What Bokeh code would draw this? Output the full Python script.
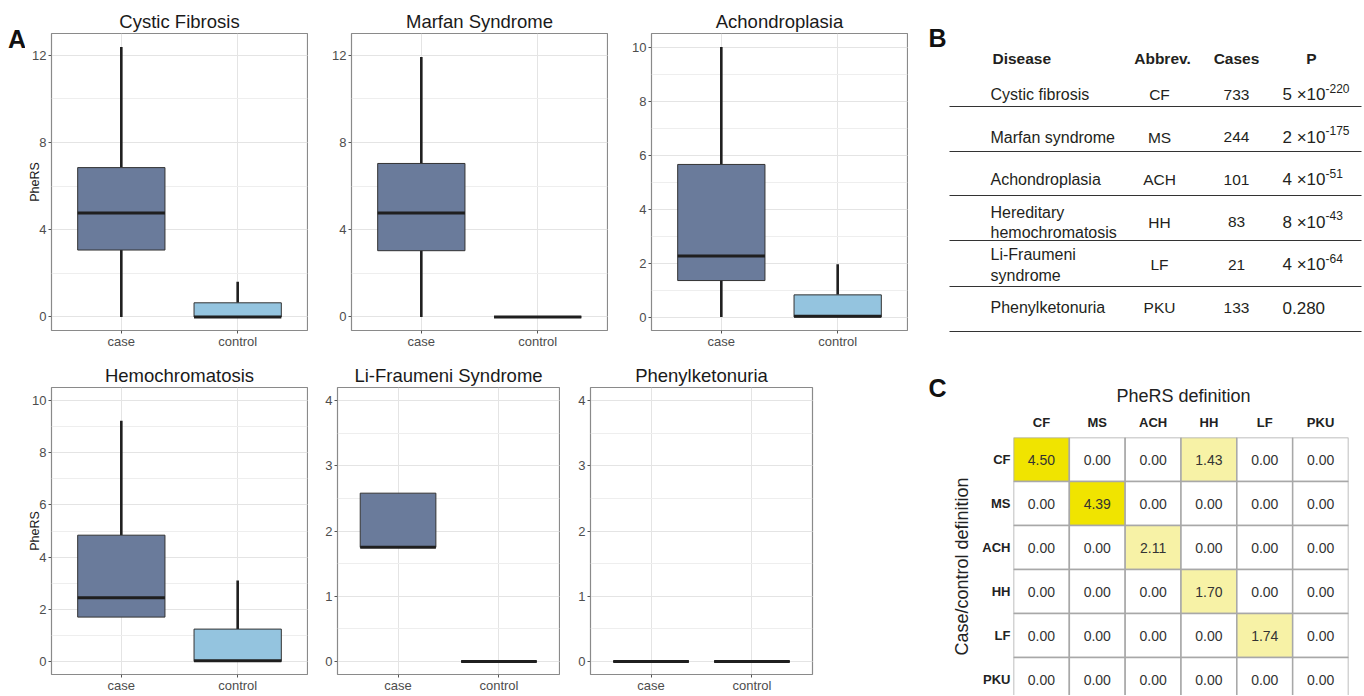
from bokeh.plotting import figure
from bokeh.layouts import row, column
from bokeh.models import Range1d, FactorRange, SingleIntervalTicker, FixedTicker
from bokeh.core.properties import value
from bokeh.embed import file_html
from bokeh.resources import INLINE

# ---------------- data ----------------
groups = ["case", "control"]
panel_titles = ["Cystic Fibrosis", "Marfan Syndrome", "Achondroplasia",
                "Hemochromatosis", "Li-Fraumeni Syndrome", "Phenylketonuria"]

# box-plot summaries per panel: [case, control]
whisker_low = [[0.0, 0.0], [0.0, 0.0], [0.0, 0.0], [1.70, 0.0], [1.75, 0.0], [0.0, 0.0]]
q1 = [[3.07, 0.0], [3.04, 0.0], [1.35, 0.0], [1.70, 0.0], [1.75, 0.0], [0.0, 0.0]]
median = [[4.77, 0.0], [4.77, 0.0], [2.26, 0.03], [2.44, 0.03], [1.75, 0.0], [0.0, 0.0]]
q3 = [[6.85, 0.65], [7.04, 0.0], [5.65, 0.82], [4.84, 1.24], [2.58, 0.0], [0.0, 0.0]]
whisker_high = [[12.38, 1.62], [11.92, 0.0], [10.0, 1.95], [9.23, 3.10], [2.58, 0.0], [0.0, 0.0]]

# axis limits / tick spacing per panel
y_lo = [-0.62, -0.62, -0.5, -0.5, -0.2, -0.2]
y_hi = [13.0, 13.0, 10.5, 10.5, 4.2, 4.2]
tick_step = [4, 4, 2, 2, 1, 1]

# table B
diseases = ["Cystic fibrosis", "Marfan syndrome", "Achondroplasia",
            "Hereditary\nhemochromatosis", "Li-Fraumeni\nsyndrome", "Phenylketonuria"]
abbrevs = ["CF", "MS", "ACH", "HH", "LF", "PKU"]
cases = [733, 244, 101, 83, 21, 133]
p_base = ["5 \u00d710", "2 \u00d710", "4 \u00d710", "8 \u00d710", "4 \u00d710", "0.280"]
p_exp = ["-220", "-175", "-51", "-43", "-64", ""]
table_headers = ["Disease", "Abbrev.", "Cases", "P"]

# heatmap C: rows = case/control definition, cols = PheRS definition
heat_values = [
    [4.50, 0.00, 0.00, 1.43, 0.00, 0.00],
    [0.00, 4.39, 0.00, 0.00, 0.00, 0.00],
    [0.00, 0.00, 2.11, 0.00, 0.00, 0.00],
    [0.00, 0.00, 0.00, 1.70, 0.00, 0.00],
    [0.00, 0.00, 0.00, 0.00, 1.74, 0.00],
    [0.00, 0.00, 0.00, 0.00, 0.00, 0.00],
]

# ---------------- styles ----------------
FONT = "Liberation Sans"
LABEL_FONT = "'Liberation Sans Narrow', 'Liberation Sans', sans-serif"
CASE_COL = "#6A7B9B"
CTRL_COL = "#94C4DF"
DARK = "#1F1F1F"
TXT = "#231F20"


def blank_fig(width, height, xr, yr):
    f = figure(width=width, height=height, x_range=xr, y_range=yr,
               output_backend="svg", toolbar_location=None, min_border=0,
               min_border_left=0, min_border_right=0, min_border_top=0, min_border_bottom=0,
               x_axis_type=None, y_axis_type=None)
    f.grid.grid_line_color = None
    f.outline_line_color = None
    return f


def box_panel(i, width, height, bl, br, bt, bb, ylabel=None):
    p = figure(width=width, height=height,
               x_range=Range1d(0.4, 2.6), y_range=Range1d(y_lo[i], y_hi[i]),
               output_backend="svg", toolbar_location=None,
               min_border_left=bl, min_border_right=br,
               min_border_top=bt, min_border_bottom=bb)
    p.title.text = panel_titles[i]
    p.title.align = "center"
    p.title.text_font = FONT
    p.title.text_font_size = "18.5px"
    p.title.text_font_style = "normal"
    p.title.text_color = "#1a1a1a"
    p.title.standoff = 3

    xs = [k + 1 for k in range(len(groups))]
    colors = [CASE_COL, CTRL_COL]
    p.segment(x0=xs, x1=xs, y0=q3[i], y1=whisker_high[i], line_color=DARK, line_width=2.6)
    p.segment(x0=xs, x1=xs, y0=whisker_low[i], y1=q1[i], line_color=DARK, line_width=2.6)
    p.vbar(x=xs, width=0.75, bottom=q1[i], top=q3[i], fill_color=colors,
           line_color="#333333", line_width=1)
    p.vbar(x=xs, width=0.75, bottom=median[i], top=median[i], fill_color=None,
           line_color=DARK, line_width=3)

    p.xaxis.ticker = FixedTicker(ticks=xs)
    p.xaxis.major_label_overrides = {x: g for x, g in zip(xs, groups)}
    p.yaxis.ticker = SingleIntervalTicker(interval=tick_step[i], num_minor_ticks=2)
    for ax in (p.xaxis[0], p.yaxis[0]):
        ax.axis_line_color = None
        ax.major_tick_out = 3
        ax.major_tick_in = 0
        ax.major_tick_line_color = "#555555"
        ax.minor_tick_line_color = None
        ax.major_label_text_font = FONT
        ax.major_label_text_font_size = "13px"
        ax.major_label_text_color = "#4D4D4D"
        ax.major_label_standoff = 1
    p.xaxis.major_label_standoff = 0
    if ylabel:
        p.yaxis.axis_label = ylabel
        p.yaxis.axis_label_text_font = FONT
        p.yaxis.axis_label_text_font_size = "12.5px"
        p.yaxis.axis_label_text_font_style = "normal"
        p.yaxis.axis_label_text_color = "#1a1a1a"
        p.yaxis.axis_label_standoff = -13
    p.xgrid.grid_line_color = "#E4E4E4"
    p.ygrid.grid_line_color = "#E4E4E4"
    p.ygrid.minor_grid_line_color = "#EEEEEE"
    p.outline_line_color = "#8A8A8A"
    p.outline_line_width = 1.2
    return p


# ---------------- panel A ----------------
p1 = box_panel(0, 283, 356, 26, 1, 33, 26, "PheRS")
p2 = box_panel(1, 300, 356, 43, 1, 33, 26)
p3 = box_panel(2, 300, 356, 43, 1, 33, 26)
p4 = box_panel(3, 283, 339, 26, 1, 31, 0, "PheRS")
p5 = box_panel(4, 252, 339, 29, 1, 31, 0)
p6 = box_panel(5, 348, 339, 30, 96, 31, 0)

# strip holding the panel letter "A"
pA = blank_fig(25, 695, Range1d(0, 25), Range1d(695, 0))
pA.text(x=[16.5], y=[38], text=["A"], text_font=value(LABEL_FONT), text_font_size="25px",
        text_font_style="bold", text_align="center", text_baseline="middle", text_color="#111111")

# ---------------- table B (also holds the "C" letter and heat-map title) ----------------
row_px = 42.6
r_top = 1 - 94 / row_px
r_bot = r_top + 410 / row_px
tab = blank_fig(454, 410, Range1d(0, 454), Range1d(r_bot, r_top))

rows = [k + 1 for k in range(len(diseases))]
header_x = [84, 254, 328, 403]
header_align = ["left", "center", "center", "center"]
for h, hx, ha in zip(table_headers, header_x, header_align):
    tab.text(x=[hx], y=[0.155], text=[h], text_font=value(FONT), text_font_size="15.5px",
             text_font_style="bold", text_align=ha, text_baseline="middle", text_color=TXT)
tab.text(x=[82] * len(rows), y=rows, text=diseases, text_font=value(FONT),
         text_font_size="16px", text_align="left", text_baseline="middle", text_color=TXT)
tab.text(x=[251] * len(rows), y=rows, text=abbrevs, text_font=value(FONT),
         text_font_size="15.5px", text_align="center", text_baseline="middle", text_color=TXT)
tab.text(x=[328] * len(rows), y=rows, text=[str(c) for c in cases], text_font=value(FONT),
         text_font_size="15.5px", text_align="center", text_baseline="middle", text_color=TXT)
tab.text(x=[374] * len(rows), y=rows, text=p_base, text_font=value(FONT),
         text_font_size="17px", text_align="left", text_baseline="middle", text_color=TXT)
tab.text(x=[417] * len(rows), y=[r - 0.15 for r in rows], text=p_exp, text_font=value(FONT),
         text_font_size="12px", text_align="left", text_baseline="middle", text_color=TXT)
rule_y = [1.282, 2.338, 3.371, 4.427, 5.507, 6.563]
tab.segment(x0=[41] * len(rule_y), x1=[453] * len(rule_y), y0=rule_y, y1=rule_y,
            line_color="#333333", line_width=1.2)
tab.text(x=[29, 29], y=[-0.315, 7.878], text=["B", "C"], text_font=value(LABEL_FONT),
         text_font_size="25px", text_font_style="bold", text_align="center",
         text_baseline="middle", text_color="#111111")
tab.text(x=[275], y=[8.089], text=["PheRS definition"], text_font=value(FONT),
         text_font_size="18px", text_align="center", text_baseline="middle", text_color="#222222")

# ---------------- heatmap C ----------------
heat_h = 285
heat_top = 27
cell_px = 44.0
heat = figure(width=454, height=heat_h, x_range=FactorRange(*abbrevs),
              y_range=Range1d(-0.5 + (heat_h - heat_top) / cell_px, -0.5),
              x_axis_location="above",
              output_backend="svg", toolbar_location=None,
              min_border_left=105, min_border_right=14, min_border_top=heat_top,
              min_border_bottom=0)
cx, cy, cc, ct = [], [], [], []
for r, rowvals in enumerate(heat_values):
    for c, v in enumerate(rowvals):
        cx.append(abbrevs[c])
        cy.append(r)
        cc.append("#F0E400" if v > 3 else ("#F7F2A6" if v > 0 else "#FFFFFF"))
        ct.append(f"{v:.2f}")
heat.rect(x=cx, y=cy, width=1, height=1, fill_color=cc, line_color="#A8A8A8", line_width=1.5)
heat.text(x=cx, y=cy, text=ct, text_font=value(FONT), text_font_size="14px",
          text_align="center", text_baseline="middle", text_color="#333333")
heat.yaxis.ticker = FixedTicker(ticks=list(range(len(abbrevs))))
heat.yaxis.major_label_overrides = {k: a for k, a in enumerate(abbrevs)}
heat.yaxis.axis_label = "Case/control definition"
for ax in (heat.xaxis[0], heat.yaxis[0]):
    ax.axis_line_color = None
    ax.major_tick_out = 0
    ax.major_tick_in = 0
    ax.minor_tick_line_color = None
    ax.major_label_text_font = FONT
    ax.major_label_text_font_size = "13px"
    ax.major_label_text_font_style = "bold"
    ax.major_label_text_color = "#222222"
    ax.axis_label_text_font = FONT
    ax.axis_label_text_font_size = "18px"
    ax.axis_label_text_font_style = "normal"
    ax.axis_label_text_color = "#222222"
heat.xaxis.major_label_standoff = 8
heat.yaxis.major_label_standoff = 3
heat.yaxis.axis_label_standoff = 7
heat.grid.grid_line_color = None
heat.outline_line_color = None

left_block = column(row(p1, p2, p3), row(p4, p5, p6))
right_block = column(row(tab), row(heat))
layout = row(pA, left_block, right_block)

with open("out.html", "w") as f:
    f.write(file_html(layout, INLINE))
